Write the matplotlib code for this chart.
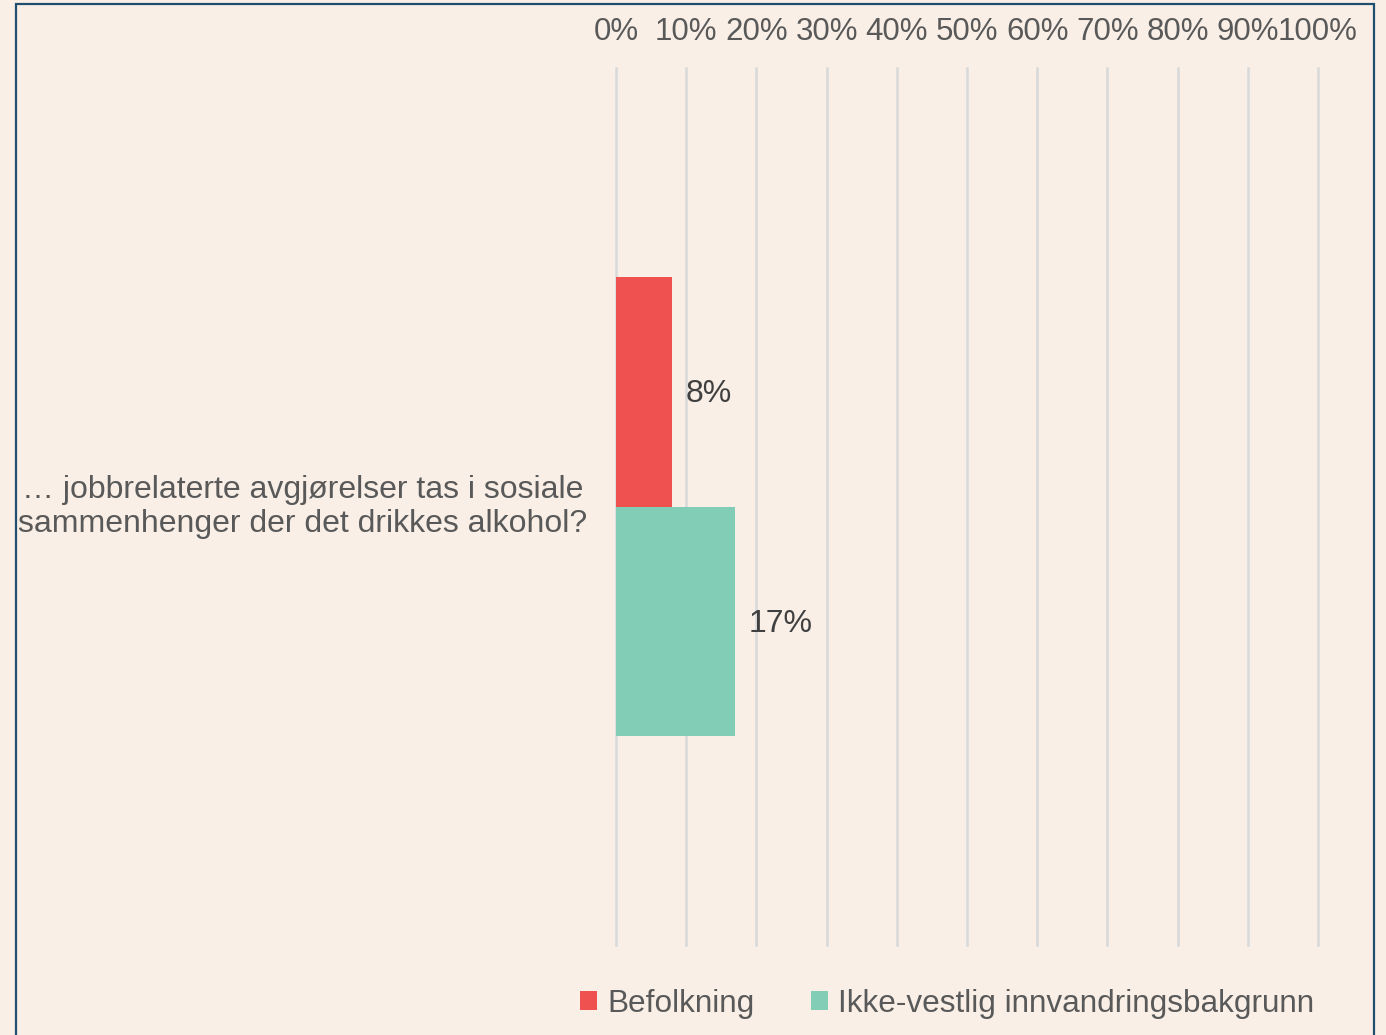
import matplotlib
matplotlib.use("Agg")
import matplotlib.pyplot as plt
from matplotlib.patches import Rectangle

# data
category = "… jobbrelaterte avgjørelser tas i sosiale\nsammenhenger der det drikkes alkohol?"
series = ["Befolkning", "Ikke-vestlig innvandringsbakgrunn"]
values = [8, 17]
colors = ["#EF5150", "#81CDB5"]
ticks = list(range(0, 101, 10))

plt.rcParams['font.family'] = ['Liberation Sans', 'DejaVu Sans']
bg = "#F9EFE6"

W, H = 1386, 1035
fig = plt.figure(figsize=(W / 100, H / 100), dpi=100, facecolor=bg)
ax = fig.add_axes([616 / W, 1 - 945 / H, (1318 - 616) / W, (945 - 68) / H])
ax.set_facecolor(bg)

# frame around the chart area
fig.patches.append(Rectangle((16 / W, -0.02), (1374 - 16) / W, 1.02 - 4 / H,
                             transform=fig.transFigure, fill=False,
                             edgecolor="#1F4E6E", linewidth=1.6, zorder=10))

bar_h = 0.262
offsets = [0.131, -0.131]
for name, v, c, off in zip(series, values, colors, offsets):
    ax.barh(off, v, height=bar_h, color=c, label=name, zorder=3)
    ax.text(v + 1.9, off - 0.003, f"{v}%", va="center", ha="left",
            fontsize=23, color="#404040", zorder=4)

ax.set_xlim(0, 100)
ax.set_ylim(-0.5, 0.5)
ax.set_xticks(ticks)
ax.set_xticklabels([f"{t}%" for t in ticks])
ax.xaxis.tick_top()
ax.tick_params(axis="x", length=0, pad=15, labelsize=22.5, labelcolor="#595959")
ax.set_yticks([])
ax.grid(axis="x", color="#D9D9D9", linewidth=1.8, zorder=0)
for gl in ax.get_xgridlines():
    gl.set_clip_on(False)
for s in ax.spines.values():
    s.set_visible(False)

fig.text(303 / W, 1 - 507 / H, category, ha="center", va="center",
         fontsize=23, color="#595959", linespacing=1.15)

leg = fig.legend(loc="center", bbox_to_anchor=(947 / W, 1 - 1004 / H), ncol=2,
                 frameon=False, fontsize=22.7, labelcolor="#595959",
                 handlelength=0.55, handleheight=0.55, handletextpad=0.3,
                 columnspacing=1.8)

fig.savefig("out.png", dpi=100, facecolor=bg)
